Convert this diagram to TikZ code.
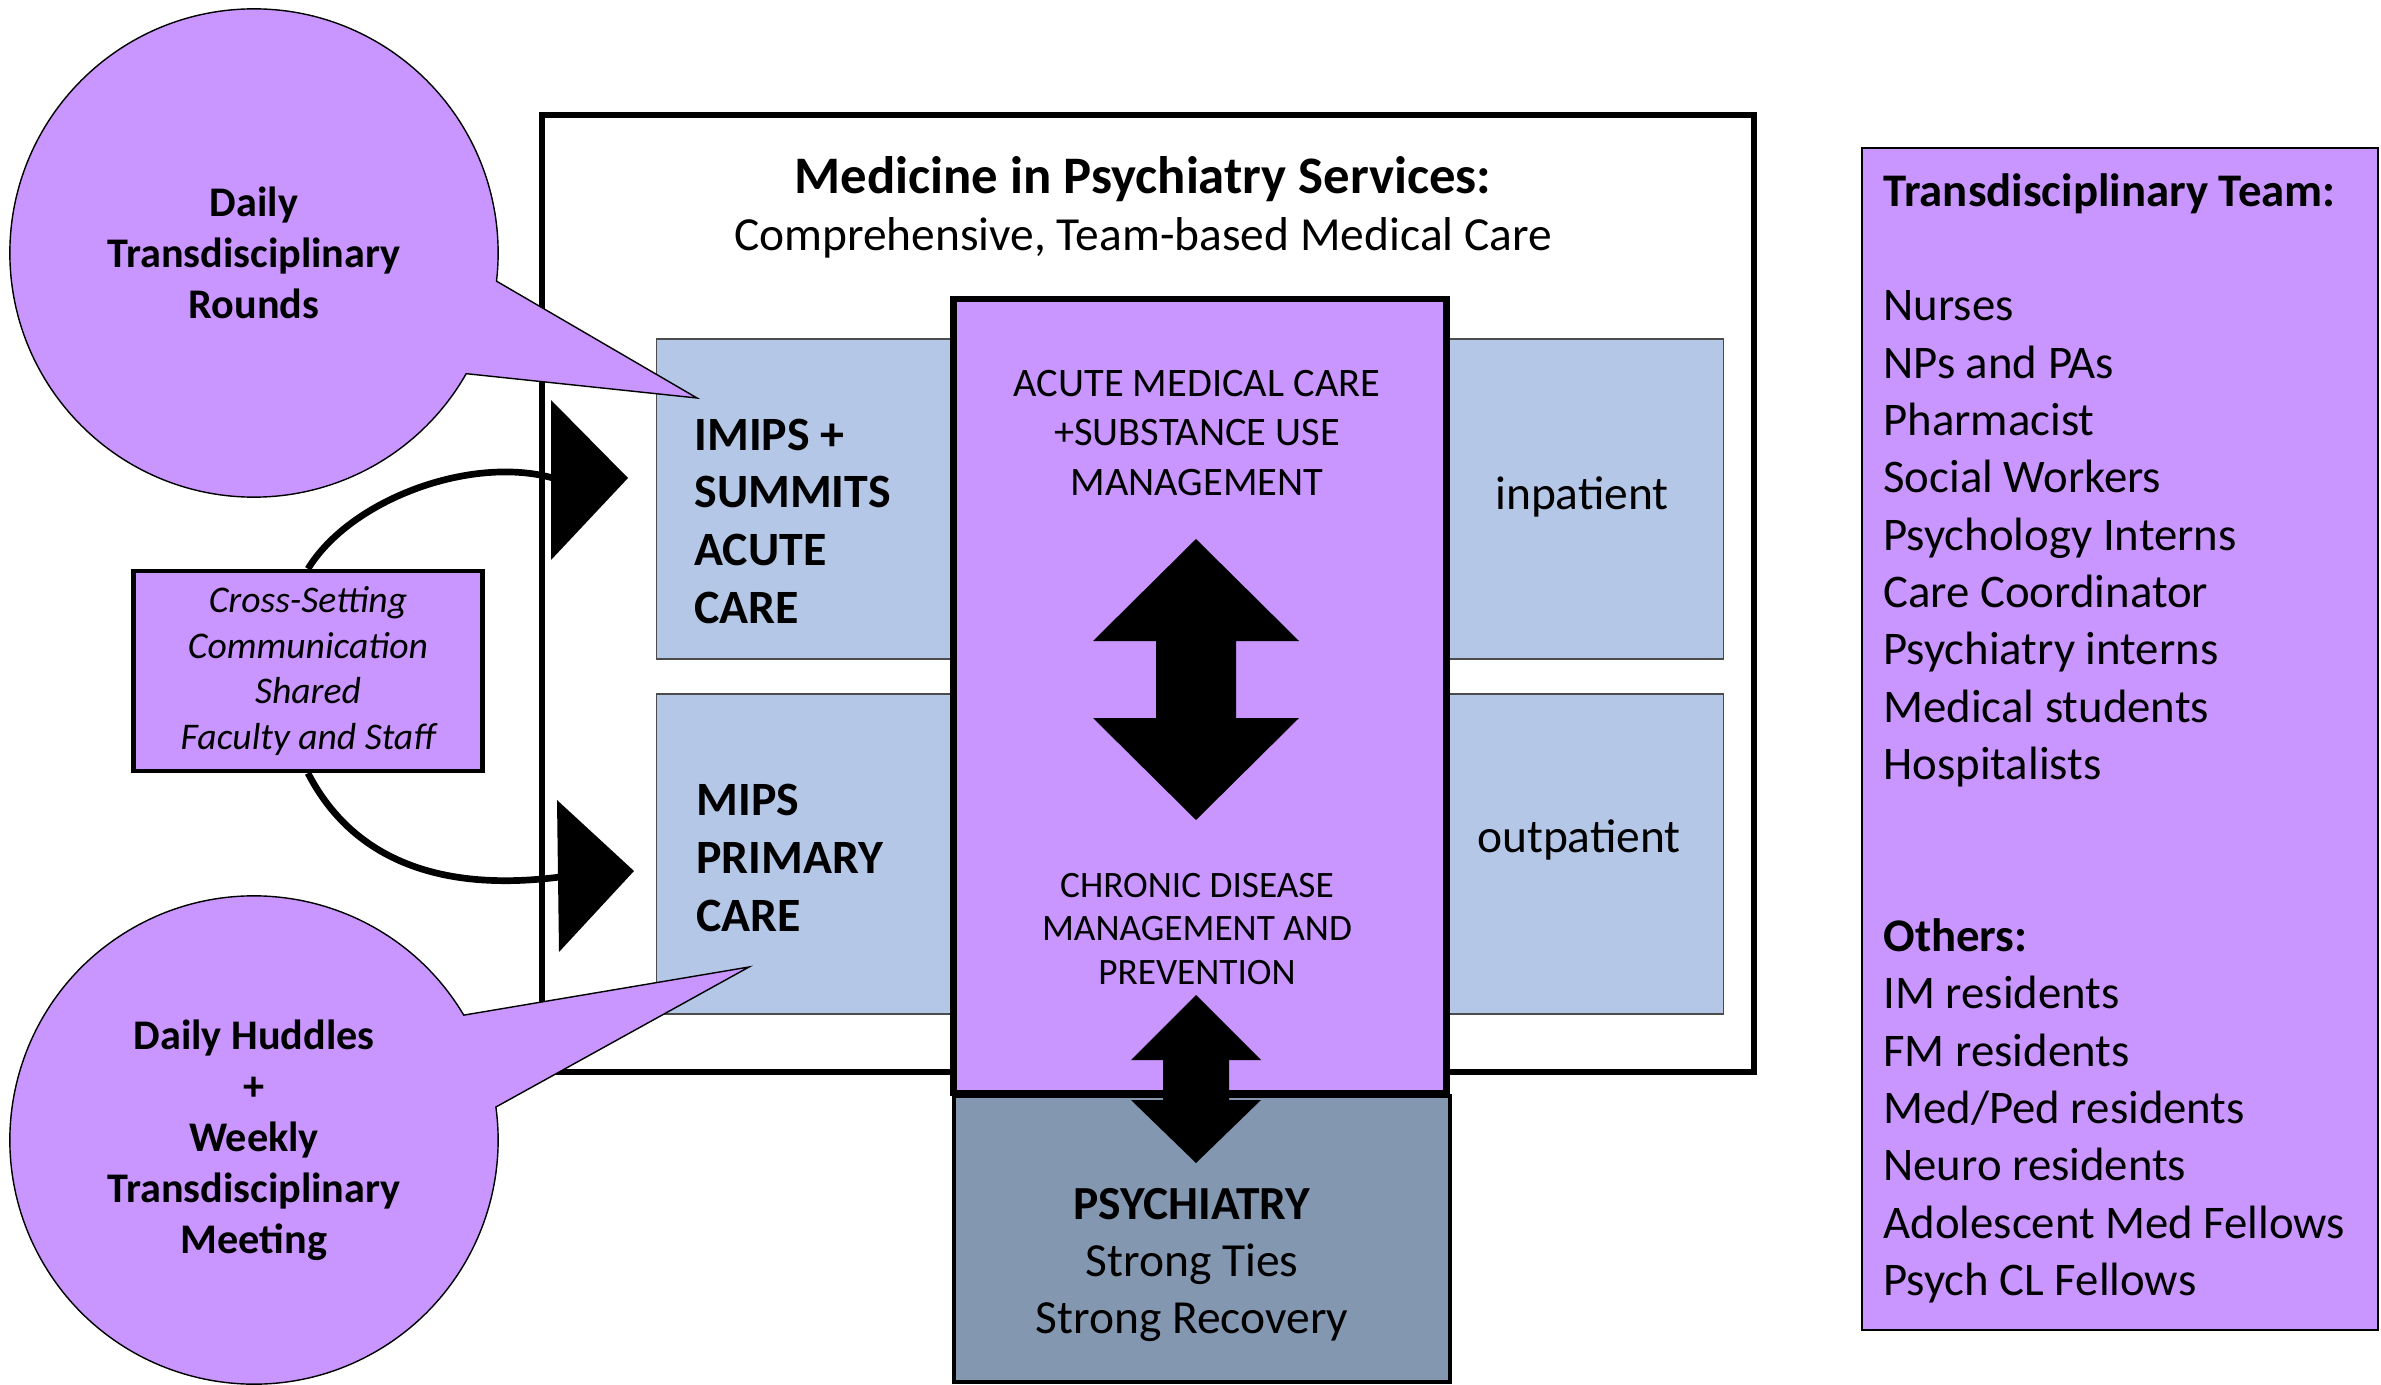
\documentclass[tikz,border=0pt]{standalone}
\usepackage{fontspec}
\setmainfont{Carlito}
\usetikzlibrary{shapes.geometric, shapes.callouts, positioning}
\definecolor{mipspurple}{HTML}{C896FE}
\definecolor{settingblue}{HTML}{B4C7E7}
\definecolor{psychslate}{HTML}{8497B0}
\newcommand{\fsz}[2]{\fontsize{#1}{#2}\selectfont}

\begin{document}
\begin{tikzpicture}[x=0.01cm, y=-0.01cm]
\tikzstyle{setting} = [rectangle, draw=gray!60!black, line width=0.4pt, fill=settingblue, minimum width=10.66cm, minimum height=3.2cm, inner sep=0pt]
\tikzstyle{bubble} = [ellipse callout, draw=black, line width=0.4pt, fill=mipspurple, minimum width=4.88cm, minimum height=4.88cm, inner sep=0pt, align=center, font=\bfseries\fsz{12}{14.5}, callout pointer arc=23]
\tikzstyle{bandtext} = [align=left, anchor=west, font=\bfseries\fsz{13.6}{16.4}]
\tikzstyle{loopline} = [line width=1.9pt]

\useasboundingbox (0,0) rectangle (2381,1385);

% Main frame
\draw[line width=1.6pt] (542,115) rectangle (1754,1072);
\node (title) at (1143,179) {\bfseries\fsz{15}{18}Medicine in Psychiatry Services:};
\node (subtitle) at (1143,238) {\fsz{13.5}{16}Comprehensive, Team-based Medical Care};

% Settings
\node (acuteband) [setting] at (1190,499) {};
\node (primaryband) [setting] at (1190,854) {};
\node (acutetext) [bandtext] at (682,521) {IMIPS +\\SUMMITS\\ACUTE\\CARE};
\node (primarytext) [bandtext] at (684,858) {MIPS\\PRIMARY\\CARE};
\node (inpatient) at (1582,497) {\fsz{13.5}{16}inpatient};
\node (outpatient) at (1579,840) {\fsz{13.5}{16}outpatient};

% Medicine column and psychiatry
\node (medcol) [rectangle, draw, line width=1.8pt, fill=mipspurple, minimum width=4.93cm, minimum height=7.94cm, inner sep=0pt] at (1200,696) {};
\node (psych) [rectangle, draw, line width=1.2pt, fill=psychslate, minimum width=4.96cm, minimum height=2.86cm, inner sep=0pt] at (1202,1239) {};
\node (acutemed) [align=center, font=\fsz{11.5}{14.2}] at (1197,433) {ACUTE MEDICAL CARE\\+SUBSTANCE USE\\MANAGEMENT};
\node (chronic) [align=center, font=\fsz{10.6}{12.5}] at (1197,929) {CHRONIC DISEASE\\MANAGEMENT AND\\PREVENTION};
\node (psychtext) [align=center, font=\fsz{13.5}{16.2}] at (1192,1265) {\textbf{PSYCHIATRY}\\Strong Ties\\Strong Recovery};

\fill (1196,539) -- (1299,641) -- (1236,641) -- (1236,718) -- (1299,718) -- (1196,820)
  -- (1093,718) -- (1156,718) -- (1156,641) -- (1093,641) -- cycle;
\fill (1196,995) -- (1261,1060) -- (1229,1060) -- (1229,1100) -- (1261,1100) -- (1196,1163)
  -- (1131,1100) -- (1163,1100) -- (1163,1060) -- (1131,1060) -- cycle;

% Bubbles
\node (rounds) [bubble, callout absolute pointer={(697,398)}] at (254,253) {Daily\\Transdisciplinary\\Rounds};
\node (huddles) [bubble, callout absolute pointer={(749,967)}] at (254,1140) {Daily Huddles\\+\\Weekly\\Transdisciplinary\\Meeting};

% Shared faculty loop
\node (crossing) [rectangle, draw, line width=1.2pt, fill=mipspurple, minimum width=3.49cm, minimum height=2cm, align=center, font=\itshape\fsz{10.7}{12.9}] at (308,671) {Cross-Setting\\Communication\\Shared\\Faculty and Staff};
\coordinate (acutein) at (553,478);
\coordinate (primaryin) at (560,877);
\draw[loopline] (crossing.north) .. controls (350,500) and (470,455) .. (acutein);
\draw[loopline] (crossing.south) .. controls (345,845) and (420,895) .. (primaryin);
\fill (551,400) -- (628,478) -- (551,560) -- cycle;
\fill (557,800) -- (634,871) -- (559,952) -- cycle;

% Team list
\node (team) [rectangle, draw, line width=0.6pt, fill=mipspurple, minimum width=5.15cm, minimum height=11.81cm, inner sep=0pt] at (2120,739) {};
\node (teamlist) [anchor=north west, align=left, font=\fsz{13.3}{16.3}] at (1871,161) {\textbf{Transdisciplinary Team:}\\[16.3pt]
Nurses\\NPs and PAs\\Pharmacist\\Social Workers\\Psychology Interns\\Care Coordinator\\Psychiatry interns\\Medical students\\Hospitalists\\[32.6pt]
\textbf{Others:}\\IM residents\\FM residents\\Med/Ped residents\\Neuro residents\\Adolescent Med Fellows\\Psych CL Fellows};

\end{tikzpicture}
\end{document}
